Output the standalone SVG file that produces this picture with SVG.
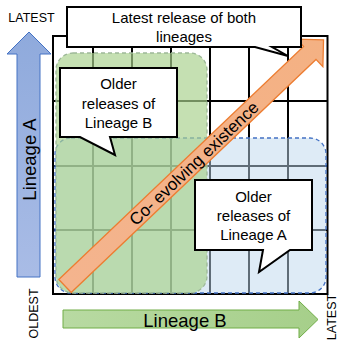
<svg xmlns="http://www.w3.org/2000/svg" width="339" height="344" viewBox="0 0 339 344">
  <defs>
    <linearGradient id="gBlue" x1="0" y1="0" x2="0" y2="1">
      <stop offset="0" stop-color="#8FAADC"/>
      <stop offset="1" stop-color="#A9BCE6"/>
    </linearGradient>
    <linearGradient id="gGreen" x1="0" y1="0" x2="1" y2="0">
      <stop offset="0" stop-color="#B8DAA2"/>
      <stop offset="1" stop-color="#A6CF8A"/>
    </linearGradient>
    <linearGradient id="gOrange" x1="0" y1="0" x2="1" y2="0">
      <stop offset="0" stop-color="#F4B48E"/>
      <stop offset="1" stop-color="#F4B183"/>
    </linearGradient>
  </defs>
  <style>
    text { font-family: "Liberation Sans", Arial, sans-serif; fill: #000; }
    .grid { stroke: #000; stroke-width: 2; fill: none; }
    .callout { fill: #fff; stroke: #000; stroke-width: 2; stroke-linejoin: miter; }
    .ct { font-size: 15px; text-anchor: middle; }
    .axl { font-size: 18.5px; text-anchor: middle; }
    .end { font-size: 12.5px; text-anchor: middle; }
  </style>

  <g id="grid">
    <rect x="53" y="36" width="274.5" height="258" class="grid" stroke-width="2.5"/>
    <path class="grid" d="M93 36V294M132 36V294M171 36V294M210 36V294M249 36V294M288 36V294M53 101H327.5M53 166H327.5M53 230H327.5"/>
  </g>

  <g id="older-a-region">
    <rect x="55" y="138" width="271" height="155" rx="16" fill="#BDD7EE" fill-opacity="0.5" stroke="#4472C4" stroke-width="1.3" stroke-dasharray="4 3"/>
  </g>
  <g id="older-b-region">
    <rect x="56" y="53" width="151" height="240" rx="17" fill="#A9D18E" fill-opacity="0.68" stroke="#9DB898" stroke-width="1.3" stroke-dasharray="4 3"/>
  </g>

  <g id="coevolving-arrow" transform="translate(65 286) rotate(-43.6)">
    <path d="M0 -9H338V-19L357 0L338 19V9H0Z" fill="url(#gOrange)" stroke="#ED7D31" stroke-width="1.3" stroke-linejoin="miter"/>
    <text x="178" y="6" font-size="17" text-anchor="middle">Co- evolving existence</text>
  </g>

  <g id="callout-latest">
    <path class="callout" d="M67 7H301V47H272L288 56L255 47H67Z"/>
    <text class="ct" x="184" y="23">Latest release of both</text>
    <text class="ct" x="184" y="42">lineages</text>
  </g>

  <g id="callout-older-b">
    <path class="callout" d="M60 68H177V137H110L115 155L80 137H60Z"/>
    <text class="ct" x="118.5" y="89">Older</text>
    <text class="ct" x="118.5" y="109">releases of</text>
    <text class="ct" x="118.5" y="128">Lineage B</text>
  </g>

  <g id="callout-older-a">
    <path class="callout" d="M195 180H312V250H290L259 272L263 250H195Z"/>
    <text class="ct" x="253.5" y="202">Older</text>
    <text class="ct" x="253.5" y="221">releases of</text>
    <text class="ct" x="253.5" y="240">Lineage A</text>
  </g>

  <g id="axis-a">
    <path d="M17 277V54H7L29 32L51 54H40V277Z" fill="url(#gBlue)" stroke="#4472C4" stroke-width="1"/>
    <text class="axl" transform="translate(36 159.5) rotate(-90)">Lineage A</text>
  </g>

  <g id="axis-b">
    <path d="M63 310H299V301L318 319.5L299 338V328H63Z" fill="url(#gGreen)" stroke="#70AD47" stroke-width="1"/>
    <text class="axl" x="185" y="327">Lineage B</text>
  </g>

  <g id="labels">
    <text class="end" x="31.5" y="22">LATEST</text>
    <text class="end" transform="translate(37.5 313.5) rotate(-90)">OLDEST</text>
    <text class="end" transform="translate(335.5 317) rotate(-90)">LATEST</text>
  </g>
</svg>
